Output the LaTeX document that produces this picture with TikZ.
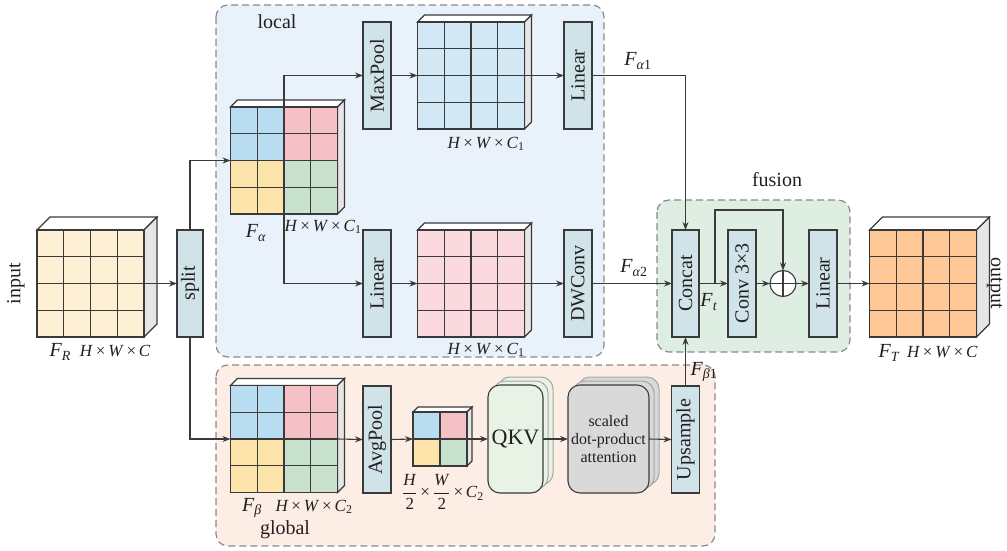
\documentclass[tikz,border=0pt]{standalone}
\usepackage{fontspec}
\setmainfont{Liberation Serif}
\usepackage{graphicx}
\usetikzlibrary{arrows.meta,calc}
\definecolor{lc}{HTML}{3A3A3A}
\definecolor{tc}{HTML}{231F20}
\definecolor{boxfill}{HTML}{CFE3E9}
\definecolor{sidec}{HTML}{E6E6E6}
\definecolor{qblue}{HTML}{B8DDF0}
\definecolor{qpink}{HTML}{F6C1C6}
\definecolor{qyel}{HTML}{FDE4AB}
\definecolor{qgreen}{HTML}{C9E2CD}
\definecolor{creamc}{HTML}{FDF0D5}
\definecolor{bluec}{HTML}{D2E9F5}
\definecolor{pinkc}{HTML}{FADADF}
\definecolor{orangec}{HTML}{FDC796}
\definecolor{localfill}{HTML}{E9F1FA}
\definecolor{globalfill}{HTML}{FCEEE4}
\definecolor{fusionfill}{HTML}{DEEEE2}
\definecolor{dashc}{HTML}{8A8A8A}
\definecolor{qkvfill}{HTML}{E8F3E6}
\definecolor{attfill}{HTML}{D9D9D9}
\newcommand{\HWC}{\textit{H}\,×\,\textit{W}\,×\,\textit{C}}
\newcommand{\mkcube}[5]{%
  \node[face, minimum size=#4pt] (#1) at (#2,#3) {};
  \draw[cubeline, fill=white] (#1.north west) -- ++(#5,-#5) -- ($(#1.north east)+(#5,-#5)$) -- (#1.north east) -- cycle;
  \draw[cubeline, fill=sidec] (#1.north east) -- ++(#5,-#5) -- ($(#1.south east)+(#5,-#5)$) -- (#1.south east) -- cycle;
}
\newcommand{\fillface}[2]{\fill[#2] (#1.north west) rectangle (#1.south east);}
\newcommand{\quadfill}[1]{%
  \fill[qblue] (#1.north west) rectangle (#1.center);
  \fill[qpink] (#1.north) rectangle (#1.east);
  \fill[qyel] (#1.west) rectangle (#1.south);
  \fill[qgreen] (#1.center) rectangle (#1.south east);
}
\newcommand{\gridface}[2]{%
  \foreach \t in {#2} {
    \draw[cubeline] ($(#1.north west)!\t!(#1.north east)$) -- ($(#1.south west)!\t!(#1.south east)$);
    \draw[cubeline] ($(#1.north west)!\t!(#1.south west)$) -- ($(#1.north east)!\t!(#1.south east)$);
  }
  \draw[cubeline] (#1.north west) rectangle (#1.south east);
}
\begin{document}
\begin{tikzpicture}[x=1pt,y=-1pt,
  conn/.style={draw=lc, line width=1.1pt},
  arr/.style={draw=lc, line width=1.1pt, -{Stealth[length=8pt,width=6pt]}},
  cubeline/.style={draw=lc, line width=1.2pt},
  face/.style={draw=none, inner sep=0pt, outer sep=0pt},
  opbox/.style={draw=lc, line width=1.2pt, fill=boxfill, minimum width=28pt, minimum height=107pt, inner sep=0pt, outer sep=0pt, text=tc, font=\fontsize{20}{22}\selectfont},
  region/.style={draw=dashc, dash pattern=on 7pt off 4pt, line width=1.2pt, rounded corners=12pt},
  lbl/.style={inner sep=0pt, text=tc, font=\fontsize{20}{22}\selectfont},
  dlbl/.style={inner sep=0pt, text=tc, font=\fontsize{17}{19}\selectfont},
  stackbox/.style={draw=lc, line width=1.1pt, rounded corners=12pt, inner sep=0pt, outer sep=0pt, minimum height=108pt, text=tc},
  stackback/.style={draw=gray!70, line width=1pt, rounded corners=12pt}
]
\useasboundingbox (0,0) rectangle (1007,551);

% regions
\draw[region, fill=localfill] (216,5) rectangle (604,357);
\draw[region, fill=globalfill] (216,365) rectangle (715,546);
\draw[region, fill=fusionfill] (657,200) rectangle (850,352);
\node[lbl] (tlocal) at (277,22) {local};
\node[lbl] (tglobal) at (285,530) {global};
\node[lbl] (tfusion) at (777,180) {fusion};

% input
\mkcube{in}{90.5}{283.5}{107}{13}
\fillface{in}{creamc}
\gridface{in}{0.25,0.5,0.75}
\node[lbl, rotate=90] (tin) at (16,283.5) {input};
\node[lbl] (lin) at (100,352) {\textit{F}\textsubscript{\textit{R}}\hspace{9pt}{\fontsize{17}{19}\selectfont\HWC}};

% split
\node[opbox, minimum width=26pt] (split) at (190,283.5) {\rotatebox{90}{split}};

% F alpha
\mkcube{fa}{284}{160.5}{107}{7}
\quadfill{fa}
\gridface{fa}{0.25,0.5,0.75}
\node[lbl] (lfa) at (256,233) {\textit{F}\textsubscript{\textit{α}}};
\node[dlbl] (lfad) at (323,227) {\HWC\textsubscript{1}};

% F beta
\mkcube{fb}{284}{439}{107}{7}
\quadfill{fb}
\gridface{fb}{0.25,0.5,0.75}
\node[lbl] (lfb) at (252,508) {\textit{F}\textsubscript{\textit{β}}};
\node[dlbl] (lfbd) at (314,507) {\HWC\textsubscript{2}};

% local branch
\node[opbox] (maxpool) at (377,75.5) {\rotatebox{90}{MaxPool}};
\mkcube{blue}{471}{75.5}{107}{7}
\fillface{blue}{bluec}
\gridface{blue}{0.25,0.5,0.75}
\node[dlbl] (lblue) at (486,144) {\HWC\textsubscript{1}};
\node[opbox] (linA) at (578,75.5) {\rotatebox{90}{Linear}};

\node[opbox] (linB) at (377,283.5) {\rotatebox{90}{Linear}};
\mkcube{pink}{471}{283.5}{107}{7}
\fillface{pink}{pinkc}
\gridface{pink}{0.25,0.5,0.75}
\node[dlbl] (lpink) at (486,350) {\HWC\textsubscript{1}};
\node[opbox] (dwconv) at (578,283.5) {\rotatebox{90}{DWConv}};

% global branch
\node[opbox] (avgpool) at (377,439.5) {\rotatebox{90}{AvgPool}};
\mkcube{small}{440}{439}{54}{5}
\quadfill{small}
\gridface{small}{0.5}
\node[dlbl] (lsmall) at (443,492) {$\displaystyle\frac{\mbox{\textit{H}}}{\mbox{2}}$\,×\,$\displaystyle\frac{\mbox{\textit{W}}}{\mbox{2}}$\,×\,\textit{C}\textsubscript{2}};

\draw[stackback, fill=qkvfill] (498,377) rectangle (553,485);
\draw[stackback, fill=qkvfill] (493,381) rectangle (548,489);
\node[stackbox, fill=qkvfill, minimum width=55pt, font=\fontsize{22}{24}\selectfont] (qkv) at (515.5,439) {QKV};

\draw[stackback, fill=attfill] (578,377) rectangle (659,485);
\draw[stackback, fill=attfill] (573,381) rectangle (654,489);
\node[stackbox, fill=attfill, minimum width=81pt, align=center, font=\fontsize{16}{18}\selectfont] (att) at (608.5,439) {scaled\\dot-product\\attention};

\node[opbox] (upsample) at (685.5,439.5) {\rotatebox{90}{Upsample}};

% fusion
\node[opbox, minimum width=27pt] (concat) at (685.5,283.5) {\rotatebox{90}{Concat}};
\node[opbox] (conv) at (742,283.5) {\rotatebox{90}{Conv 3×3}};
\node[circle, draw=lc, fill=white, line width=1.1pt, minimum size=26pt, inner sep=0pt, outer sep=0pt] (plus) at (783,283.5) {};
\draw[conn] (plus.north) -- (plus.south);
\draw[conn] (plus.west) -- (plus.east);
\node[opbox] (linC) at (823,283.5) {\rotatebox{90}{Linear}};

% output
\mkcube{out}{923}{283.5}{107}{13}
\fillface{out}{orangec}
\gridface{out}{0.25,0.5,0.75}
\node[lbl] (lout) at (928,353) {\textit{F}\textsubscript{\textit{T}}\hspace{7pt}{\fontsize{17}{19}\selectfont\HWC}};
\node[lbl, rotate=-90, anchor=base] (tout) at (991,283.5) {output};

% labels of flows
\node[lbl] (lfa1) at (638,61) {\textit{F}\textsubscript{\textit{α}1}};
\node[lbl] (lfa2) at (634,268) {\textit{F}\textsubscript{\textit{α}2}};
\node[lbl] (lft) at (709,302) {\textit{F}\textsubscript{\textit{t}}};
\node[lbl] (lfb1) at (704,372) {\textit{F}\textsubscript{\textit{β}1}};

% connectors
\draw[arr] (in.east) -- (split.west);
\draw[arr] (split.north) |- (fa.west);
\draw[arr] (split.south) |- (fb.west);
\draw[arr] (fa.north) |- (maxpool.west);
\draw[arr] (fa.south) |- (linB.west);
\draw[arr] (maxpool.east) -- (blue.west);
\draw[arr] (blue.east) -- (linA.west);
\draw[arr] (linA.east) -| (concat.north);
\draw[arr] (linB.east) -- (pink.west);
\draw[arr] (pink.east) -- (dwconv.west);
\draw[arr] (dwconv.east) -- (concat.west);
\draw[arr] (fb.east) -- (avgpool.west);
\draw[arr] (avgpool.east) -- (small.west);
\draw[arr] (small.east) -- (qkv.west);
\draw[arr] (qkv.east) -- (att.west);
\draw[arr] (att.east) -- (upsample.west);
\draw[arr] (upsample.north) -- (concat.south);
\coordinate (br) at ($(concat.east)!0.55!(conv.west)$);
\draw[arr] (concat.east) -- (conv.west);
\draw[arr] (br) -- ++(0,-73.5) -| (plus.north);
\draw[arr] (conv.east) -- (plus.west);
\draw[arr] (plus.east) -- (linC.west);
\draw[arr] (linC.east) -- (out.west);
\end{tikzpicture}
\end{document}
